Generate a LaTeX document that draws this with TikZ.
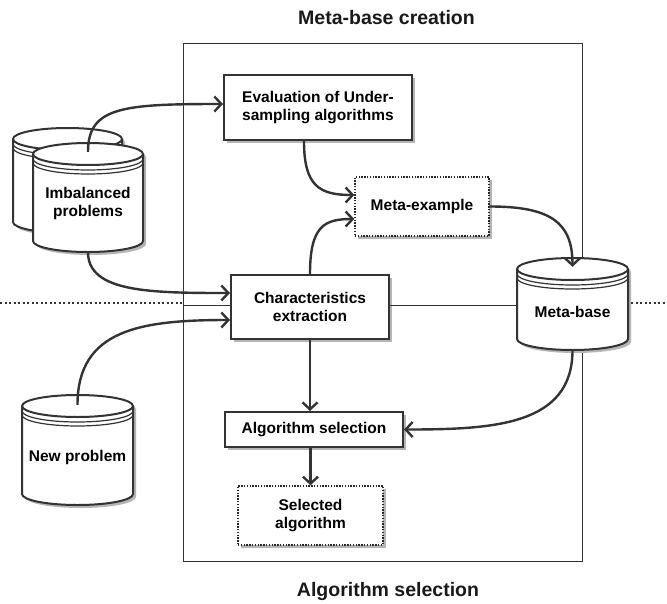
\documentclass[tikz,border=0pt]{standalone}
\usepackage{fontspec}
\setmainfont{Liberation Sans}
\usetikzlibrary{arrows.meta,shadows}
\definecolor{ln}{HTML}{333333}
\definecolor{shd}{HTML}{B5B5B5}
\newcommand\myNodeFont{\fontsize{15.5}{18}\selectfont\bfseries}
\newcommand\myTitleFont{\fontsize{19.5}{22}\selectfont\bfseries}
\newcommand\dbcyl[4]{%
 \pgfmathsetmacro\dbrx{(#3-#1)/2}%
 \pgfmathsetmacro\dbcx{(#1+#3)/2}%
 \pgfmathsetmacro\dbty{#2+11}%
 \pgfmathsetmacro\dbby{#4-11}%
 \pgfmathsetmacro\dbta{#2+16}%
 \pgfmathsetmacro\dbtb{#2+20}%
 \fill[shd,shift={(3,3)}] (#1,\dbty) arc[start angle=180,end angle=0,x radius=\dbrx pt,y radius=11pt] -- (#3,\dbby) arc[start angle=0,end angle=-180,x radius=\dbrx pt,y radius=11pt] -- cycle;
 \fill[white] (#1,\dbty) arc[start angle=180,end angle=0,x radius=\dbrx pt,y radius=11pt] -- (#3,\dbby) arc[start angle=0,end angle=-180,x radius=\dbrx pt,y radius=11pt] -- cycle;
 \draw[ln,line width=2pt] (#1,\dbty) -- (#1,\dbby) arc[start angle=180,end angle=360,x radius=\dbrx pt,y radius=11pt] -- (#3,\dbty);
 \draw[ln,line width=2pt] (\dbcx,\dbty) ellipse[x radius=\dbrx pt,y radius=11pt];
 \draw[ln,line width=1.2pt] (#1,\dbta) arc[start angle=180,end angle=360,x radius=\dbrx pt,y radius=11pt];
 \draw[ln,line width=1.2pt] (#1,\dbtb) arc[start angle=180,end angle=360,x radius=\dbrx pt,y radius=11pt];
}
\tikzset{
 box/.style={draw=ln, line width=2pt, fill=white, align=center, font=\myNodeFont, inner sep=0pt,
   drop shadow={shadow xshift=3pt,shadow yshift=-3pt,fill=shd,opacity=1}},
 dbox/.style={box, draw=black!85, line width=1.4pt, dash pattern=on 1.4pt off 1.4pt},
 cylbody/.style={align=center, font=\myNodeFont, inner sep=0pt},
 conn/.style={draw=ln, line width=2.4pt, -{Straight Barb[length=7pt,width=15pt]}},
 sep/.style={draw=ln, line width=0.9pt},
 dotline/.style={draw=ln, line width=2pt, dash pattern=on 2pt off 2.5pt},
 frame/.style={draw=ln, line width=1pt, inner sep=0pt},
 title/.style={font=\myTitleFont, text=black!90}
}
\begin{document}
\begin{tikzpicture}[x=1pt,y=-1pt]
\useasboundingbox (0,0) rectangle (667,603);
\fill[white] (0,0) rectangle (667,603);

\node[frame, minimum width=399pt, minimum height=518pt] (frame) at (382.5,302) {};
\node[title] (t1) at (386.5,18) {Meta-base creation};
\node[title] (t2) at (388,591) {Algorithm selection};

% cylinders
\dbcyl{13}{128}{122}{233}
\dbcyl{33}{143}{143}{252}
\node[cylbody, minimum width=110pt, minimum height=64pt] (imb) at (88,203) {Imbalanced\\problems};
\dbcyl{22}{395}{133}{505}
\node[cylbody, minimum width=111pt, minimum height=64pt] (np) at (77.5,457) {New problem};

% boxes
\node[box, minimum width=188pt, minimum height=65pt] (eval) at (318,107.5) {Evaluation of Under-\\sampling algorithms};
\node[dbox, minimum width=134pt, minimum height=59pt] (mex) at (422,206.5) {Meta-example};
\node[box, minimum width=158pt, minimum height=64pt] (char) at (310,307) {Characteristics\\extraction};
\node[box, minimum width=178pt, minimum height=35pt] (alg) at (314,429.5) {Algorithm selection};
\node[dbox, minimum width=145pt, minimum height=59pt] (sel) at (310.5,515.5) {Selected\\algorithm};

% separators
\coordinate (dl) at (0,303);
\coordinate (dr) at (667,303);
\coordinate (sl) at (0,305);
\draw[sep] (frame.west |- sl) -- (char.west |- sl);
\draw[dotline] (dl) -- (frame.west |- dl);

% meta-base cylinder (covers frame edge)
\dbcyl{517}{258}{628}{350}
\node[cylbody, minimum width=111pt, minimum height=64pt] (mb) at (572.5,312) {Meta-base};
\draw[sep] (char.east |- sl) -- (mb.west |- sl);
\draw[dotline] ([xshift=3pt]mb.east |- dr) -- (dr);

% connectors
\draw[conn] ([yshift=19pt]imb.north) .. controls +(0,-45) and +(-100,0) .. ([yshift=3.5pt]eval.west);
\draw[conn] ([yshift=-17pt]imb.south) .. controls +(0,40) and +(-80,0) .. ([yshift=14pt]char.west);
\draw[conn] ([yshift=20pt]np.north) .. controls +(0,-75) and +(-90,0) .. ([yshift=-13pt]char.west);
\draw[conn] ([xshift=-14pt]eval.south) .. controls +(0,45) and +(-35,0) .. ([yshift=11.5pt]mex.west);
\draw[conn] (char.north) .. controls +(0,-48) and +(-30,0) .. ([yshift=-12.5pt]mex.west);
\draw[conn] (mex.east) .. controls +(60,0) and +(0,-45) .. ([yshift=13pt]mb.north);
\draw[conn] (char.south) -- (char.south |- alg.north);
\draw[conn] ([yshift=-6pt]mb.south) .. controls +(0,75) and +(90,0) .. (alg.east);
\draw[conn] (alg.south -| sel.north) -- (sel.north);
\end{tikzpicture}
\end{document}
